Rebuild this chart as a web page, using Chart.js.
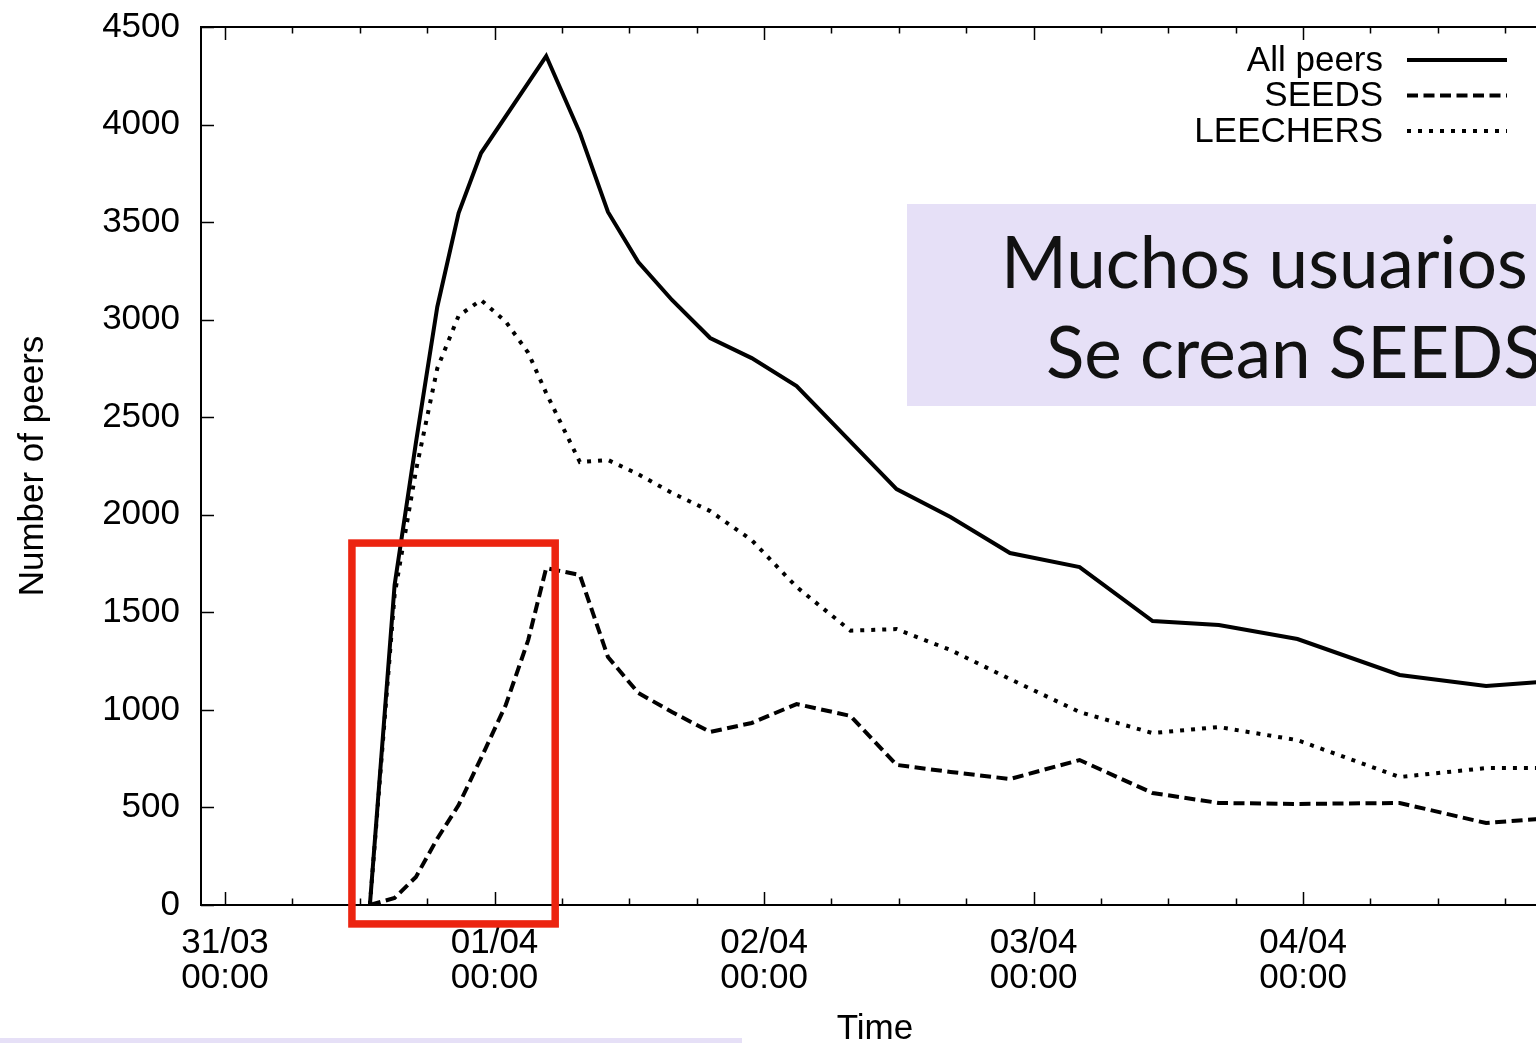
<!DOCTYPE html>
<html>
<head>
<meta charset="utf-8">
<title>Number of peers over time</title>
<script src="https://cdn.jsdelivr.net/npm/chart.js@4.4.1/dist/chart.umd.min.js"></script>
<style>
  html, body { margin: 0; padding: 0; background: #fff; overflow: hidden; width: 1536px; height: 1043px; }
  #wrap { position: absolute; left: 0; top: 0; width: 1570px; height: 1043px; }
  #note { position: absolute; left: 907px; top: 204px; width: 700px; height: 202px; background: #e6e0f7; }
  #note div { position: absolute; font-family: Lato, "Open Sans", sans-serif; font-size: 71px; line-height: 71px; color: #111; white-space: nowrap; }
  #strip { position: absolute; left: 0; top: 1038px; width: 742px; height: 5px; background: #e6e0f7; }
</style>
</head>
<body>
<div id="wrap"><canvas id="chart" width="1570" height="1043"></canvas></div>
<div id="note">
  <div style="left:94px; top:21px;">Muchos usuarios</div>
  <div style="left:139px; top:111px;">Se crean SEEDS</div>
</div>
<div id="strip"></div>
<script>
// Hours since 31/03 00:00 for each sample
const hours    = [12.9, 15.1, 17.0, 18.9, 20.8, 22.8, 25.0, 27.0, 28.6, 31.6, 34.1, 36.8, 39.8, 43.2, 46.9, 50.9, 55.7, 59.8, 64.6, 69.9, 76.1, 82.6, 88.5, 95.5, 104.6, 112.3, 117.1];
const allPeers = [0, 1640, 2370, 3065, 3546, 3854, null, null, 4351, 3957, 3552, 3295, 3101, 2906, 2803, 2660, null, 2132, 1989, 1804, 1732, 1455, 1435, 1363, 1179, 1122, 1143];
const seeds    = [0, 36, 144, 340, 512, 753, 1025, 1358, 1727, 1691, 1271, 1087, 989, 887, 933, 1030, 969, 718, 682, 646, 743, 574, 523, 518, 523, 420, 441];
const leechers = [0, 1590, 2226, 2750, 3020, 3100, 2990, 2830, 2624, 2270, 2281, 2208, 2112, 2019, 1870, 1630, 1406, 1414, 1307, 1158, 989, 881, 912, 845, 656, 702, 702];

const seriesNames = ['All peers', 'SEEDS', 'LEECHERS'];
const dayTicks  = [0, 24, 48, 72, 96];
const dayLabels = ['31/03', '01/04', '02/04', '03/04', '04/04'];
const timeLabel = '00:00';
const yTicks = [0, 500, 1000, 1500, 2000, 2500, 3000, 3500, 4000, 4500];

// Highlighted region (hours / peers)
const highlight = { from: 11.3, to: 29.4, low: -97, high: 1855 };

const FONT = 'Liberation Sans, Arial, Helvetica, sans-serif';

function points(values) {
  return hours.map((h, i) => ({ x: h, y: values[i] }));
}

function noPadding(s) {
  s.paddingTop = 0; s.paddingBottom = 0; s.paddingLeft = 0; s.paddingRight = 0;
}

// Border, inward ticks, key and highlight box drawn on top of the lines
const framePlugin = {
  id: 'frame',
  afterDatasetsDraw(chart) {
    const { ctx, chartArea: a, scales: { x, y } } = chart;
    ctx.save();
    ctx.strokeStyle = '#000';
    ctx.lineWidth = 1.5;
    ctx.beginPath();
    for (let h = -24; h <= 144; h += 6) {
      if (h < x.min || h > x.max) continue;
      const px = Math.round(x.getPixelForValue(h)) + 0.5;
      const len = (h % 24 === 0) ? 13 : 6.5;
      ctx.moveTo(px, a.bottom); ctx.lineTo(px, a.bottom - len);
      ctx.moveTo(px, a.top); ctx.lineTo(px, a.top + len);
    }
    yTicks.forEach(v => {
      const py = Math.round(y.getPixelForValue(v)) + 0.5;
      ctx.moveTo(a.left, py); ctx.lineTo(a.left + 13, py);
      ctx.moveTo(a.right, py); ctx.lineTo(a.right - 13, py);
    });
    ctx.stroke();
    ctx.lineWidth = 2;
    ctx.strokeRect(a.left, a.top, a.right - a.left, a.bottom - a.top);

    // key
    ctx.font = '35px ' + FONT;
    ctx.fillStyle = '#000';
    ctx.textAlign = 'right';
    ctx.textBaseline = 'middle';
    const rows = [33, 68.5, 104];
    chart.data.datasets.forEach((ds, i) => {
      const ry = a.top + rows[i];
      ctx.fillText(ds.label, a.right - 166, ry + 1);
      ctx.save();
      ctx.lineWidth = ds.borderWidth;
      ctx.lineCap = 'butt';
      ctx.setLineDash(ds.borderDash || []);
      ctx.beginPath();
      ctx.moveTo(a.right - 142, ry);
      ctx.lineTo(a.right - 42, ry);
      ctx.stroke();
      ctx.restore();
    });
    ctx.restore();
  },
  afterDraw(chart) {
    const { ctx, scales: { x, y } } = chart;
    const l = x.getPixelForValue(highlight.from), r = x.getPixelForValue(highlight.to);
    const t = y.getPixelForValue(highlight.high), b = y.getPixelForValue(highlight.low);
    ctx.save();
    ctx.strokeStyle = '#ec2410';
    ctx.lineWidth = 7.5;
    ctx.strokeRect(l, t, r - l, b - t);
    ctx.restore();
  }
};

new Chart(document.getElementById('chart'), {
  type: 'line',
  data: {
    datasets: [
      { label: seriesNames[0], data: points(allPeers), borderColor: '#000', borderWidth: 4, spanGaps: true },
      { label: seriesNames[1], data: points(seeds), borderColor: '#000', borderWidth: 4, borderDash: [11, 5.5] },
      { label: seriesNames[2], data: points(leechers), borderColor: '#000', borderWidth: 4, borderDash: [4, 7] }
    ]
  },
  options: {
    responsive: false,
    animation: false,
    devicePixelRatio: 1,
    layout: { padding: { top: 27, right: 21, left: 0, bottom: 0 } },
    plugins: { legend: { display: false }, tooltip: { enabled: false } },
    elements: {
      point: { radius: 0 },
      line: { tension: 0, borderCapStyle: 'butt', borderJoinStyle: 'miter', fill: false }
    },
    scales: {
      x: {
        type: 'linear',
        min: -2.14,
        max: 117.9,
        grid: { display: false, drawTicks: false },
        border: { display: false },
        afterBuildTicks: s => { s.ticks = dayTicks.map(v => ({ value: v })); },
        afterFit: s => { s.height = 138; noPadding(s); },
        ticks: {
          padding: 21,
          maxRotation: 0,
          autoSkip: false,
          color: '#000',
          font: { family: FONT, size: 35, lineHeight: 1 },
          callback: (v, i) => [dayLabels[i], timeLabel]
        },
        title: {
          display: true, text: 'Time', color: '#000',
          font: { family: FONT, size: 35, lineHeight: 1 },
          padding: { top: 0, bottom: -4 }
        }
      },
      y: {
        min: 0,
        max: 4500,
        grid: { display: false, drawTicks: false },
        border: { display: false },
        afterBuildTicks: s => { s.ticks = yTicks.map(v => ({ value: v })); },
        afterFit: s => { s.width = 201; noPadding(s); },
        ticks: {
          padding: 21,
          color: '#000',
          font: { family: FONT, size: 35, lineHeight: 1 },
          callback: v => String(v)
        },
        title: {
          display: true, text: 'Number of peers', color: '#000',
          font: { family: FONT, size: 35, lineHeight: 1 },
          padding: { top: 16, bottom: 0 }
        }
      }
    }
  },
  plugins: [framePlugin]
});
</script>
</body>
</html>
